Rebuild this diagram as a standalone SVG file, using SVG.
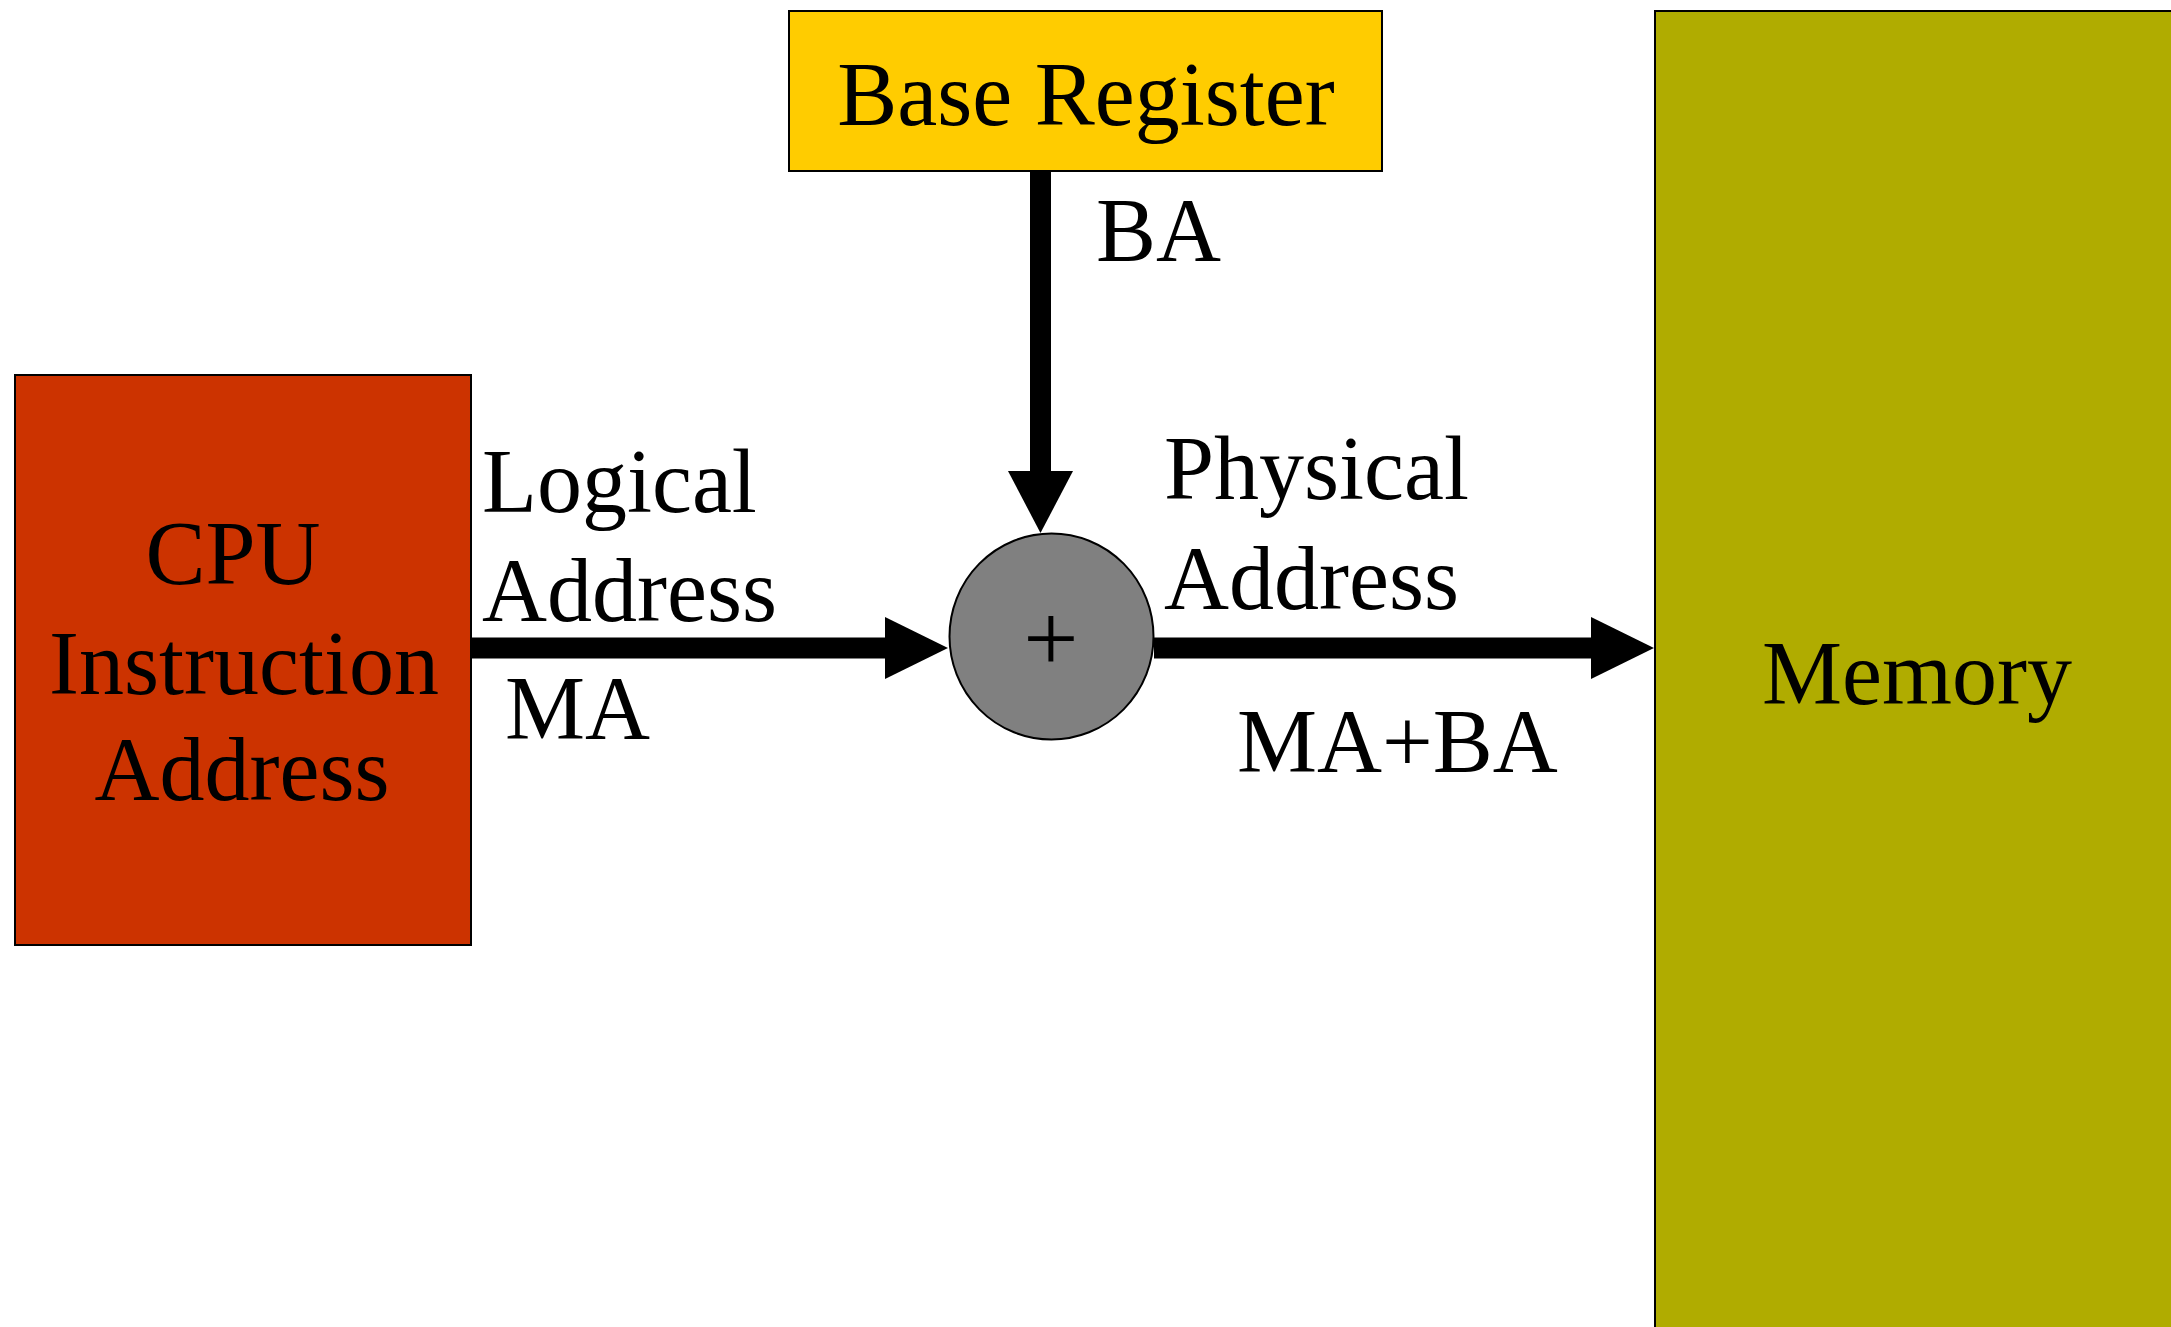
<svg xmlns="http://www.w3.org/2000/svg" width="2171" height="1327" viewBox="0 0 2171 1327">
<style>
.lbl{font-family:"Liberation Serif","Times New Roman",serif;font-size:90px;fill:#000}
.box{stroke:#000;stroke-width:2}
.wire{stroke:#000;stroke-width:21;fill:none}
.head{fill:#000}
</style>
<rect width="2171" height="1327" fill="#fff"/>
<g id="memory">
<rect class="box" x="1655" y="11" width="530" height="1330" fill="#B0AC00"/>
<text class="lbl" x="1917" y="704" text-anchor="middle">Memory</text>
</g>
<g id="base-register">
<rect class="box" x="789" y="11" width="593" height="160" fill="#FFCC00"/>
<text class="lbl" x="1086" y="125" text-anchor="middle">Base Register</text>
</g>
<g id="cpu">
<rect class="box" x="15" y="375" width="456" height="570" fill="#CC3300"/>
<text class="lbl" x="233" y="584" text-anchor="middle">CPU</text>
<text class="lbl" x="244" y="694" text-anchor="middle">Instruction</text>
<text class="lbl" x="242" y="800" text-anchor="middle">Address</text>
</g>
<g id="adder">
<ellipse class="box" cx="1051.5" cy="636.5" rx="102" ry="103" fill="#808080"/>
<text class="lbl" x="1051" y="671" text-anchor="middle" style="font-size:98px">+</text>
</g>
<g id="connectors">
<line class="wire" x1="471" y1="648" x2="890" y2="648"/>
<polygon class="head" points="885,617 948,648 885,679"/>
<line class="wire" x1="1040.5" y1="171" x2="1040.5" y2="476"/>
<polygon class="head" points="1008,471 1073,471 1040.5,533"/>
<line class="wire" x1="1154" y1="648" x2="1596" y2="648"/>
<polygon class="head" points="1591,617 1654,648 1591,679"/>
</g>
<g id="labels">
<text class="lbl" x="482" y="512">Logical</text>
<text class="lbl" x="482" y="621">Address</text>
<text class="lbl" x="505" y="739">MA</text>
<text class="lbl" x="1096" y="261">BA</text>
<text class="lbl" x="1164" y="499">Physical</text>
<text class="lbl" x="1164" y="609">Address</text>
<text class="lbl" x="1237" y="772">MA+BA</text>
</g>
</svg>
